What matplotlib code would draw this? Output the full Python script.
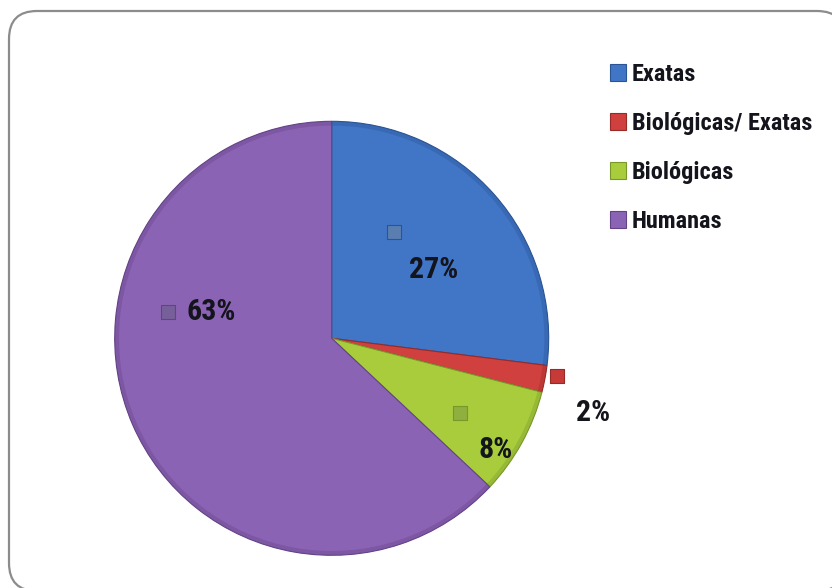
import matplotlib as mpl
import matplotlib.pyplot as plt
from matplotlib.patches import FancyBboxPatch
from matplotlib.transforms import IdentityTransform

categories = ["Exatas", "Biológicas/ Exatas", "Biológicas", "Humanas"]
shares = [27, 2, 8, 63]
pct_labels = ["27%", "2%", "8%", "63%"]

# slice colours (Excel 2007 palette, slightly brighter as rendered)
C = ["#4175C6", "#D0403E", "#A8CC3C", "#8B63B4"]
EDGE = ["#2A5494", "#982A28", "#78982A", "#634387"]
MARK = ["#5A7EB0", "#C63A38", "#8FAF3E", "#77609A"]

# data label placement, pie units (labels were dragged around in the original)
label_xy = [(0.470, 0.313), (1.207, -0.346), (0.756, -0.516), (-0.553, 0.120)]
marker_xy = [(0.285, 0.488), (1.037, -0.176), (0.591, -0.346), (-0.756, 0.120)]

mpl.rcParams.update({
    "font.family": ["Roboto Condensed", "DejaVu Sans"],
    "font.stretch": "condensed",
    "font.weight": "bold",
    "text.color": "#14141c",
})

W, H = 832, 588
fig = plt.figure(figsize=(W / 100, H / 100), dpi=100)
fig.patch.set_facecolor("white")

# rounded chart-area frame, right/bottom edges run off the canvas
frame = FancyBboxPatch((9, -3), 836, 580,
                       boxstyle="round,pad=0,rounding_size=28",
                       transform=IdentityTransform(), facecolor="white",
                       edgecolor="#8c8c8c", lw=1.6, zorder=-1)
fig.add_artist(frame)

cx, cy, r = 331.7, 338.3, 217
ax = fig.add_axes([(cx - r) / W, (H - cy - r) / H, 2 * r / W, 2 * r / H])
wedges, _ = ax.pie(shares, colors=C, startangle=90, counterclock=False,
                   radius=1, wedgeprops=dict(lw=0.8))
for w, ec in zip(wedges, EDGE):
    w.set_edgecolor(ec)
# faint darker rim to hint at the bevel
ax.pie(shares, colors=EDGE, startangle=90, counterclock=False,
       radius=1, wedgeprops=dict(width=0.02, lw=0, alpha=0.35))
ax.set_xlim(-1, 1)
ax.set_ylim(-1, 1)
ax.set_aspect("equal")
ax.axis("off")

for (tx, ty), (mx, my), lab, mc, ec in zip(label_xy, marker_xy, pct_labels, MARK, EDGE):
    ax.text(tx, ty, lab, ha="center", va="center", fontsize=21.5)
    ax.scatter([mx], [my], marker="s", s=105, color=mc, edgecolors=ec,
               linewidths=0.8, clip_on=False, zorder=5)

leg = fig.legend(wedges, categories, loc="upper left",
                 bbox_to_anchor=(610 / W, 1 - 63 / H), frameon=False,
                 fontsize=17.5, handlelength=0.65, handleheight=0.65,
                 handletextpad=0.25, labelspacing=1.07, borderpad=0,
                 borderaxespad=0)

fig.savefig("out.png", dpi=100, facecolor="white")
